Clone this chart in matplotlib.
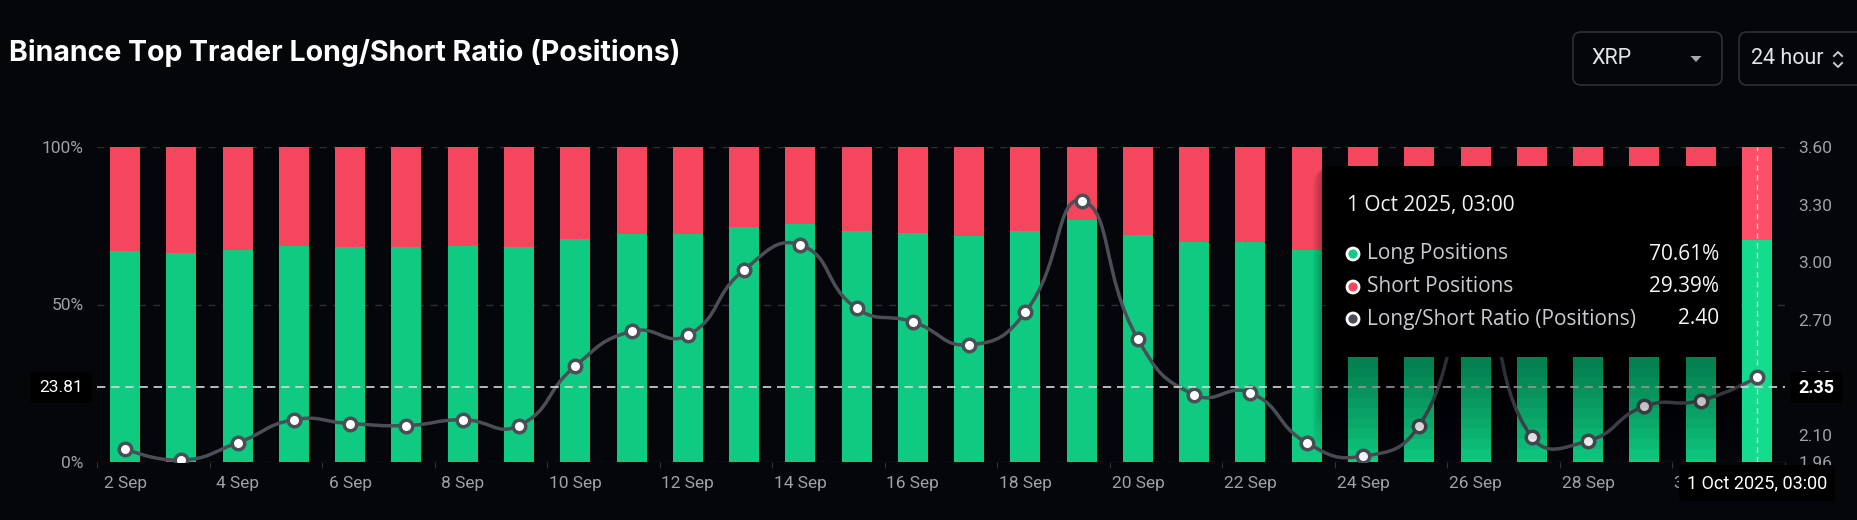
import numpy as np
import matplotlib
matplotlib.use('Agg')
import matplotlib.pyplot as plt
from matplotlib.path import Path
from matplotlib.patches import PathPatch, FancyBboxPatch, Circle, Polygon
from matplotlib.transforms import IdentityTransform
from matplotlib.lines import Line2D

# data
days = [f'{d} Sep' for d in range(2, 31)] + ['1 Oct']
long_pct = [66.9, 66.2, 67.3, 68.6, 68.3, 68.1, 68.6, 68.1, 70.9, 72.4,
            72.3, 74.6, 75.6, 73.4, 72.7, 71.9, 73.2, 76.8, 72.0, 69.8,
            69.9, 67.3, 66.6, 68.3, 74.0, 67.7, 67.4, 69.2, 69.5, 70.61]
ratio = [2.03, 1.97, 2.06, 2.18, 2.16, 2.15, 2.18, 2.15, 2.46, 2.64,
         2.62, 2.96, 3.09, 2.76, 2.69, 2.57, 2.74, 3.32, 2.60, 2.31,
         2.32, 2.06, 1.99, 2.15, 2.85, 2.09, 2.07, 2.25, 2.28, 2.40]
left_ticks = [0, 50, 100]
right_ticks = [1.96, 2.10, 2.40, 2.70, 3.00, 3.30, 3.60]
cross_left = '23.81'
cross_right = 2.35
cross_date = '1 Oct 2025, 03:00'

W, H = 1858, 520
BG = '#05060a'
GREEN = '#0ecb81'
RED = '#f6465d'
LINE = '#4a4e57'
TICK = '#9ea1a8'
PX = IdentityTransform()

fig = plt.figure(figsize=(W / 100, H / 100), dpi=100, facecolor=BG)
ax = fig.add_axes([97 / W, 58 / H, 1688 / W, 315 / H])
ax.set_facecolor(BG)
x = np.arange(len(long_pct))
long_arr = np.array(long_pct)
short_arr = 100 - long_arr

ax.set_xlim(-0.5, len(x) - 0.5)
ax.set_ylim(0, 100)
for s in ax.spines.values():
    s.set_visible(False)

for v in left_ticks:
    ax.axhline(v, color='#2c2f36', lw=1, ls=(0, (5, 5)), zorder=0)

gcol = [GREEN] * (len(x) - 1) + ['#14dc8e']
rcol = [RED] * (len(x) - 1) + ['#ff4f68']
ax.bar(x, long_arr, width=0.533, color=gcol, zorder=1)
ax.bar(x, short_arr, bottom=long_arr, width=0.533, color=rcol, zorder=1)
ax.axvline(x[-1], color='#e8e8e8', lw=1, ls=(0, (4, 3)), alpha=0.8, zorder=2)

ax.set_yticks(left_ticks)
ax.set_yticklabels([f'{v}%' for v in left_ticks])
ax.set_xticks(x[::2])
ax.set_xticklabels(days[::2])
ax.set_xticks(np.arange(-0.5, len(x), 2), minor=True)
ax.tick_params(axis='y', length=0, pad=9.5, colors=TICK, labelsize=12.5)
ax.tick_params(axis='x', which='major', length=0, pad=10, colors=TICK, labelsize=12.5)
ax.tick_params(axis='x', which='minor', length=4, color='#3a3d44', direction='out')
for lbl in ax.get_xticklabels() + ax.get_yticklabels():
    lbl.set_family('Roboto')

ax2 = ax.twinx()
ax2.set_ylim(right_ticks[0], right_ticks[-1])
for s in ax2.spines.values():
    s.set_visible(False)
ax2.set_yticks(right_ticks)
ax2.set_yticklabels([f'{v:.2f}' for v in right_ticks])
ax2.tick_params(axis='y', length=0, pad=9.5, colors=TICK, labelsize=12.5)
for lbl in ax2.get_yticklabels():
    lbl.set_family('Roboto')


def smooth_path(xs, ys, a, smooth=0.5):
    # echarts-like bezier smoothing in pixel space
    pts = a.transData.transform(np.column_stack([xs, ys]))
    n = len(pts)
    verts = [pts[0]]
    codes = [Path.MOVETO]
    for i in range(n - 1):
        p0, p1 = pts[i], pts[i + 1]
        if i == 0:
            c1 = p0
        else:
            pr = pts[i - 1]
            l0 = np.hypot(*(p0 - pr))
            l1 = np.hypot(*(p1 - p0))
            c1 = p0 + (p1 - pr) * smooth * l1 / (l0 + l1)
        if i + 1 == n - 1:
            c2 = p1
        else:
            nx = pts[i + 2]
            l0 = np.hypot(*(p1 - p0))
            l1 = np.hypot(*(nx - p1))
            c2 = p1 - (nx - p0) * smooth * l0 / (l0 + l1)
        verts += [c1, c2, p1]
        codes += [Path.CURVE4] * 3
    verts = a.transData.inverted().transform(np.array(verts))
    return Path(verts, codes)


ax2.add_patch(PathPatch(smooth_path(x, ratio, ax2), fill=False, ec=LINE, lw=2.5, zorder=3))
ax2.plot(x, ratio, 'o', ms=9, mfc='white', mec=LINE, mew=2.5, zorder=4)
ax2.axhline(cross_right, color='#d6d8dc', lw=1.2, ls=(0, (5, 3.5)), zorder=5)


def box(x0, y0, x1, y1, fc, ec='none', r=4, z=4, alpha=1.0, lw=1):
    p = FancyBboxPatch((x0, H - y1), x1 - x0, y1 - y0,
                       boxstyle=f'round,pad=0,rounding_size={r}',
                       fc=fc, ec=ec, lw=lw, alpha=alpha, transform=PX, zorder=z)
    fig.add_artist(p)


def txt(x0, y0, s, **kw):
    kw.setdefault('va', 'center')
    kw.setdefault('zorder', 6)
    fig.text(x0, H - y0, s, transform=PX, **kw)


# title and selectors
txt(9, 53, 'Binance Top Trader Long/Short Ratio (Positions)', family='Inter',
    fontweight='bold', fontsize=20.5, color='white')
box(1573, 32, 1722, 85, BG, ec='#2c2f36', r=8, lw=1.2)
txt(1591, 59, 'XRP', family='Roboto', fontsize=15.5, color='#e2e4e8')
fig.add_artist(Polygon([[1690.5, H - 56], [1701.5, H - 56], [1696, H - 62]],
                       closed=True, fc='#a4a8ae', ec='none', transform=PX, zorder=6))
box(1739, 32, 1880, 85, BG, ec='#2c2f36', r=8, lw=1.2)
txt(1751, 59, '24 hour', family='Roboto', fontsize=15.5, color='#e2e4e8')
fig.add_artist(Line2D([1834, 1838, 1842], [H - 56, H - 52, H - 56], color='#c8cbd0',
                      lw=1.4, transform=PX, zorder=6))
fig.add_artist(Line2D([1834, 1838, 1842], [H - 63, H - 67, H - 63], color='#c8cbd0',
                      lw=1.4, transform=PX, zorder=6))

# tooltip with soft shadow
tx0, ty0, tx1, ty1 = 1328, 166, 1741, 357
for k in range(10, 0, -1):
    e = k * 6
    box(tx0 - e * 0.25, ty0, tx1, ty1 + e * 1.7, '#000000', r=4 + e * 0.3, z=3, alpha=0.045)
box(tx0, ty0, tx1, ty1, '#000000', r=4, z=4)
TF = 'Open Sans'
txt(1347, 206, cross_date, family=TF, fontsize=15, color='#f2f2f2')
rows = [('Long Positions', f'{long_arr[-1]:.2f}%', GREEN),
        ('Short Positions', f'{short_arr[-1]:.2f}%', RED),
        ('Long/Short Ratio (Positions)', f'{ratio[-1]:.2f}', '#4a4e57')]
for (name, val, c), yy in zip(rows, [254, 287, 319]):
    fig.add_artist(Circle((1353, H - yy), 6, fc=c, ec='white', lw=2, transform=PX, zorder=6))
    txt(1367, yy, name, family=TF, fontsize=15, color='#c8cbd0')
    txt(1719, yy, val, family=TF, fontsize=15, color='#f5f5f5', ha='right')

# crosshair labels
box(30, 372, 92, 403, '#000000', r=4, z=5)
txt(61, 388, cross_left, family='Roboto', fontsize=12.5, color='white', ha='center')
box(1790, 372, 1843, 403, '#000000', r=4, z=5)
txt(1816, 388, f'{cross_right:.2f}', family='Roboto', fontsize=13, color='white',
    ha='center', fontweight='bold')
box(1679, 465, 1835, 501, '#000000', r=4, z=5)
txt(1757, 483, cross_date, family='Roboto', fontsize=13, color='white', ha='center')

fig.savefig('out.png', dpi=100, facecolor=BG)
